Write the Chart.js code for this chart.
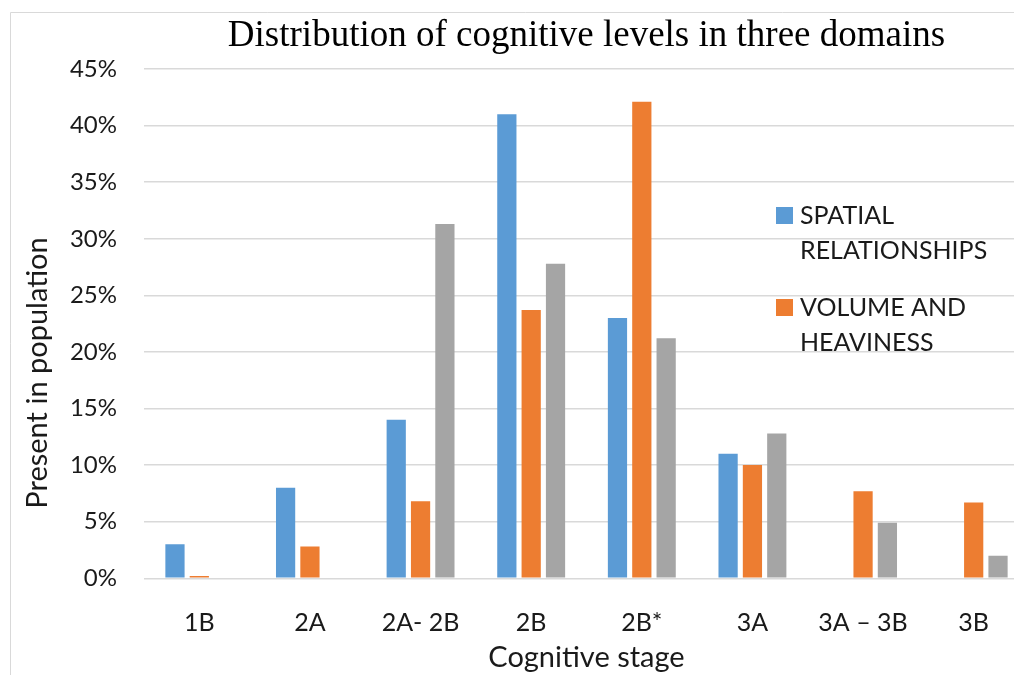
<!DOCTYPE html>
<html>
<head>
<meta charset="utf-8">
<script src="https://cdn.jsdelivr.net/npm/chart.js@4.4.1/dist/chart.umd.min.js"></script>
<style>
  html, body { margin: 0; padding: 0; background: #fff; overflow: hidden; }
  #wrap { position: relative; width: 1014px; height: 675px; overflow: hidden; }
  canvas { position: absolute; left: 0; top: 0; }
</style>
</head>
<body>
<div id="wrap"><canvas id="chart" width="1040" height="675"></canvas></div>
<script>
const stages = ['1B', '2A', '2A- 2B', '2B', '2B*', '3A', '3A \u2013 3B', '3B'];
const spatial = [3.0, 8.0, 14.0, 41.0, 23.0, 11.0, 0, 0];
const volume = [0.2, 2.8, 6.8, 23.7, 42.1, 10.0, 7.7, 6.7];
const third = [0, 0, 31.3, 27.8, 21.2, 12.8, 4.9, 2.0];
const yTicks = [0, 5, 10, 15, 20, 25, 30, 35, 40, 45];

const titleText = 'Distribution of cognitive levels in three domains';
const yTitle = 'Present in population';
const xTitle = 'Cognitive stage';

const BLUE = '#5B9BD5', ORANGE = '#ED7D31', GRAY = '#A5A5A5';

// texts and legend drawn on top, like the Excel layout
const decorations = {
    id: 'decorations',
    beforeDraw(chart) {
        const ctx = chart.ctx;
        ctx.save();
        ctx.strokeStyle = '#d9d9d9';
        ctx.lineWidth = 1;
        ctx.beginPath();
        ctx.moveTo(10.5, 675);
        ctx.lineTo(10.5, 12.5);
        ctx.lineTo(chart.width, 12.5);
        ctx.stroke();
        ctx.restore();
    },
    afterDraw(chart) {
        const ctx = chart.ctx;
        const area = chart.chartArea;
        ctx.save();
        ctx.fillStyle = '#000';
        ctx.textAlign = 'center';
        ctx.textBaseline = 'middle';
        ctx.font = '37px "Liberation Serif"';
        ctx.fillText(titleText, (area.left + area.right) / 2, 36);

        ctx.fillStyle = '#1a1a1a';
        ctx.font = '29px Lato';
        ctx.fillText(xTitle, (area.left + area.right) / 2, 658);

        ctx.save();
        ctx.translate(38, 373);
        ctx.rotate(-Math.PI / 2);
        ctx.fillText(yTitle, 0, 0);
        ctx.restore();

        // legend (only two entries are visible)
        const items = [
            { color: BLUE, lines: ['SPATIAL', 'RELATIONSHIPS'], y: 215 },
            { color: ORANGE, lines: ['VOLUME AND', 'HEAVINESS'], y: 307 }
        ];
        ctx.textAlign = 'left';
        ctx.font = '25px Lato';
        items.forEach(it => {
            ctx.fillStyle = it.color;
            ctx.fillRect(776, it.y - 8, 17, 17);
            ctx.fillStyle = '#1a1a1a';
            it.lines.forEach((t, i) => ctx.fillText(t, 800, it.y + 1 + i * 35));
        });
        ctx.restore();
    }
};

new Chart(document.getElementById('chart').getContext('2d'), {
    type: 'bar',
    plugins: [decorations],
    data: {
        labels: stages,
        datasets: [
            { label: 'SPATIAL RELATIONSHIPS', data: spatial, backgroundColor: BLUE },
            { label: 'VOLUME AND HEAVINESS', data: volume, backgroundColor: ORANGE },
            { label: 'Series 3', data: third, backgroundColor: GRAY }
        ]
    },
    options: {
        responsive: false,
        animation: false,
        categoryPercentage: 0.66,
        barPercentage: 0.79,
        layout: { padding: { top: 69, right: 11, left: 0, bottom: 0 } },
        plugins: {
            legend: { display: false },
            title: { display: false },
            tooltip: { enabled: false }
        },
        scales: {
            x: {
                grid: { display: false },
                border: { display: false },
                ticks: {
                    padding: 22,
                    maxRotation: 0,
                    autoSkip: false,
                    color: '#1a1a1a',
                    font: { family: 'Lato', size: 25 }
                },
                afterFit(scale) { scale.height = 675 - 578.3; }
            },
            y: {
                min: 0,
                max: 45,
                afterBuildTicks(scale) { scale.ticks = yTicks.map(v => ({ value: v })); },
                grid: { color: '#d9d9d9', lineWidth: 1.5, drawTicks: false },
                border: { display: false },
                ticks: {
                    padding: 27,
                    color: '#1a1a1a',
                    font: { family: 'Lato', size: 24 },
                    callback: v => v + '%'
                },
                afterFit(scale) { scale.width = 144; }
            }
        }
    }
});
</script>
</body>
</html>
